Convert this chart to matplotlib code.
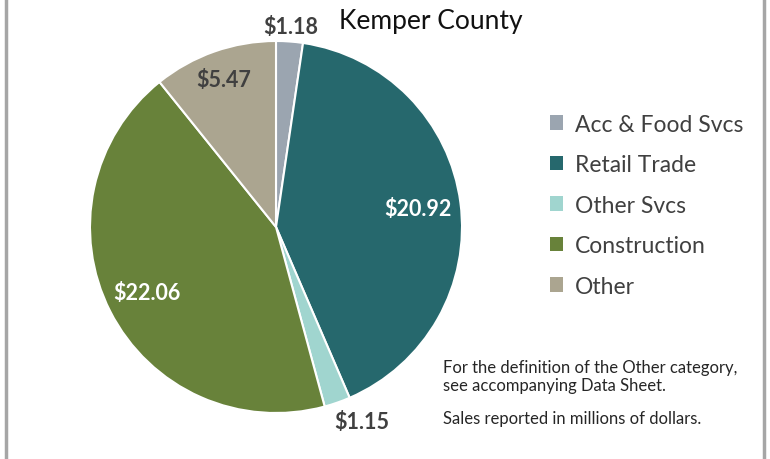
import matplotlib.pyplot as plt
import numpy as np
from matplotlib.patches import Patch
from matplotlib.lines import Line2D

plt.rcParams['font.family'] = ['Lato', 'DejaVu Sans']

# data
categories = ['Acc & Food Svcs', 'Retail Trade', 'Other Svcs', 'Construction', 'Other']
sales = [1.18, 20.92, 1.15, 22.06, 5.47]
value_labels = ['$1.18', '$20.92', '$1.15', '$22.06', '$5.47']

colors = ['#9ba5b0', '#26686d', '#a0d5cf', '#68823a', '#aba590']
label_colors = ['#404040', 'white', '#404040', 'white', '#404040']
label_radius = [1.08, 0.77, 1.14, 0.78, 0.84]
label_shift = [0, 0, 4.5, 0, 0]   # degrees

W, H = 770, 460
fig = plt.figure(figsize=(W / 100, H / 100), dpi=100)

# pie axes, centre at (276, 228) px, radius 186 px
R = 186 * 1.3
cx, cy = 276, 460 - 228
ax = fig.add_axes([(cx - R) / W, (cy - R) / H, 2 * R / W, 2 * R / H])
wedges, _ = ax.pie(sales, colors=colors, startangle=90, counterclock=False,
                   wedgeprops=dict(edgecolor='white', linewidth=1.5))
ax.set_xlim(-1.3, 1.3)
ax.set_ylim(-1.3, 1.3)
ax.set_aspect('equal')
ax.axis('off')

for w, lab, c, r, s in zip(wedges, value_labels, label_colors, label_radius, label_shift):
    ang = np.deg2rad((w.theta1 + w.theta2) / 2 + s)
    ax.text(r * np.cos(ang), r * np.sin(ang), lab, ha='center', va='center',
            fontsize=15.5, fontweight='bold', color=c)

fig.text(431 / W, 1 - 22 / H, 'Kemper County', ha='center', va='center',
         fontsize=19, color='#111111')

handles = [Patch(facecolor=c, edgecolor='none') for c in colors]
fig.legend(handles, categories, loc='upper left',
           bbox_to_anchor=(529 / W, 1 - 94 / H), frameon=False,
           fontsize=16.5, labelcolor='#404040', handlelength=0.6,
           handleheight=0.6, handletextpad=0.5, labelspacing=0.85)

fig.text(443 / W, 1 - 377 / H, 'For the definition of the Other category,\nsee accompanying Data Sheet.',
         ha='left', va='center', fontsize=12, color='#262626', linespacing=1.15)
fig.text(443 / W, 1 - 419 / H, 'Sales reported in millions of dollars.',
         ha='left', va='center', fontsize=12, color='#262626')

# frame lines on the sides
for x in (6.5, 763.5):
    fig.add_artist(Line2D([x / W, x / W], [0, 1], color='#a6a6a6', linewidth=2.5,
                          transform=fig.transFigure))

fig.savefig('out.png', dpi=100, facecolor='white')
